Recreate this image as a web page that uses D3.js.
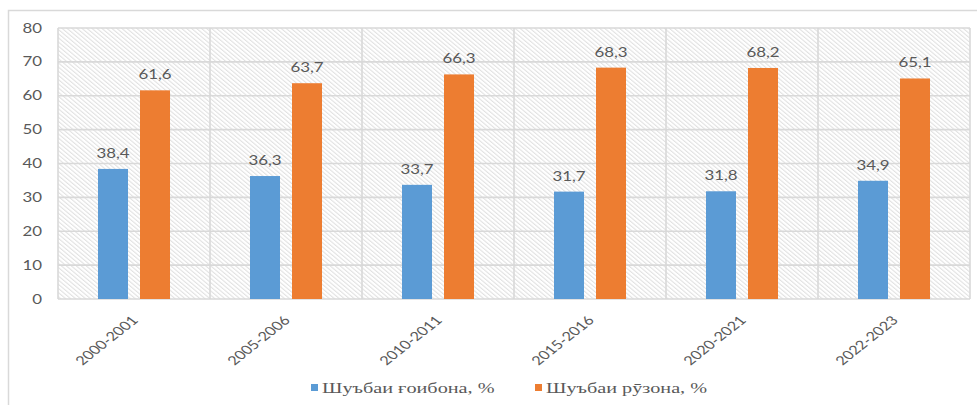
<!DOCTYPE html>
<html>
<head>
<meta charset="utf-8">
<script src="https://cdn.jsdelivr.net/npm/d3@7"></script>
<style>
  body { margin: 0; background: #fff; }
  svg { display: block; }
</style>
</head>
<body>
<div id="chart-area"></div>
<script>
// DATA
const years = ["2000-2001", "2005-2006", "2010-2011", "2015-2016", "2020-2021", "2022-2023"];
const seriesNames = ["Шуъбаи ғоибона, %", "Шуъбаи рӯзона, %"];
const zaochnoe = [38.4, 36.3, 33.7, 31.7, 31.8, 34.9];
const ruzona = [61.6, 63.7, 66.3, 68.3, 68.2, 65.1];
const yTicks = [0, 10, 20, 30, 40, 50, 60, 70, 80];

const colors = ["#5B9BD5", "#ED7D31"];
const textColor = "#595959";
const gridColor = "#D9D9D9";
const sx = 1.35; // picture looks stretched sideways

var W = 977, H = 405;
var margin = { left: 58, right: 7, top: 28, bottom: 106 };

var svg = d3.select("#chart-area").append("svg")
    .attr("width", W)
    .attr("height", H);

// hatch fill for plot area
var defs = svg.append("defs");
defs.append("pattern")
    .attr("id", "hatch")
    .attr("patternUnits", "userSpaceOnUse")
    .attr("width", 8)
    .attr("height", 3.2)
    .attr("patternTransform", "rotate(40)")
  .append("line")
    .attr("x1", 0).attr("y1", 1)
    .attr("x2", 8).attr("y2", 1)
    .attr("stroke", "#dadada")
    .attr("stroke-width", 0.9);

// outer chart border
svg.append("rect")
    .attr("x", 8.5).attr("y", 10.5)
    .attr("width", W + 10).attr("height", H + 10)
    .attr("fill", "none")
    .attr("stroke", gridColor)
    .attr("stroke-width", 1.5);

// Scales
var x = d3.scaleBand()
    .domain(years)
    .range([margin.left, W - margin.right])
    .paddingInner(0).paddingOuter(0);

var xSub = d3.scaleBand()
    .domain([0, 1])
    .range([0, x.bandwidth()])
    .paddingInner(0.2857)
    .paddingOuter(0.952);

var y = d3.scaleLinear()
    .domain([0, 80])
    .range([H - margin.bottom - 0, margin.top]);

var g = svg.append("g");

// plot background
g.append("rect")
    .attr("x", margin.left).attr("y", margin.top)
    .attr("width", W - margin.right - margin.left)
    .attr("height", y(0) - margin.top)
    .attr("fill", "url(#hatch)");

// horizontal grid
g.selectAll(".hgrid").data(yTicks).enter().append("line")
    .attr("class", "hgrid")
    .attr("x1", margin.left).attr("x2", W - margin.right)
    .attr("y1", d => y(d)).attr("y2", d => y(d))
    .attr("stroke", gridColor)
    .attr("stroke-width", 1.6);

// vertical grid (category boundaries)
var bounds = years.map(d => x(d)).concat([x(years[years.length - 1]) + x.bandwidth()]);
g.selectAll(".vgrid").data(bounds).enter().append("line")
    .attr("class", "vgrid")
    .attr("x1", d => d).attr("x2", d => d)
    .attr("y1", margin.top).attr("y2", y(0))
    .attr("stroke", gridColor)
    .attr("stroke-width", 1.6);

// bars
var rows = years.map((yr, i) => ({ year: yr, vals: [zaochnoe[i], ruzona[i]] }));

var groups = g.selectAll(".cat").data(rows).enter().append("g")
    .attr("class", "cat")
    .attr("transform", d => "translate(" + x(d.year) + ",0)");

groups.selectAll("rect").data(d => d.vals.map((v, k) => ({ k: k, v: v })))
    .enter().append("rect")
    .attr("x", d => xSub(d.k))
    .attr("width", xSub.bandwidth())
    .attr("y", d => y(d.v))
    .attr("height", d => y(0) - y(d.v))
    .attr("fill", d => colors[d.k]);

// value labels
var fmt = v => d3.format(".1f")(v).replace(".", ",");
groups.selectAll(".val").data(d => d.vals.map((v, k) => ({ k: k, v: v })))
    .enter().append("text")
    .attr("class", "val")
    .attr("transform", d => "translate(" + (xSub(d.k) + xSub.bandwidth() / 2) + "," + (y(d.v) - 11) + ") scale(" + sx + ",1)")
    .attr("text-anchor", "middle")
    .attr("fill", textColor)
    .style("font-family", "Lato, sans-serif")
    .style("font-size", "12.5px")
    .text(d => fmt(d.v));

// Y axis
var yAxis = g.append("g")
    .attr("transform", "translate(" + margin.left + ",0)")
    .call(d3.axisLeft(y).tickValues(yTicks).tickSize(0).tickFormat(d3.format("d")));
yAxis.select(".domain").remove();
yAxis.selectAll("text")
    .attr("x", -16 / sx)
    .attr("transform", "scale(" + sx + ",1)")
    .attr("fill", textColor)
    .style("font-family", "Lato, sans-serif")
    .style("font-size", "12.5px");

// X axis
var xAxis = g.append("g")
    .attr("transform", "translate(0," + y(0) + ")")
    .call(d3.axisBottom(x).tickSize(0));
xAxis.select(".domain").remove();
xAxis.selectAll(".tick text")
    .attr("x", 0).attr("y", 0).attr("dy", 0)
    .attr("transform", "translate(5,22) scale(1.3,1) rotate(-46)")
    .attr("text-anchor", "end")
    .attr("fill", textColor)
    .style("font-family", "Lato, sans-serif")
    .style("font-size", "12.5px");

// Legend
var legendX = [311, 535];
var legend = svg.selectAll(".legend").data(seriesNames).enter().append("g")
    .attr("class", "legend")
    .attr("transform", (d, i) => "translate(" + legendX[i] + ",384)");
legend.append("rect")
    .attr("width", 7).attr("height", 7)
    .attr("fill", (d, i) => colors[i]);
legend.append("text")
    .attr("transform", "translate(11,8.5) scale(1.35,1)")
    .attr("fill", textColor)
    .style("font-family", "'Liberation Serif', serif")
    .style("font-size", "15px")
    .text(d => d);
</script>
</body>
</html>
